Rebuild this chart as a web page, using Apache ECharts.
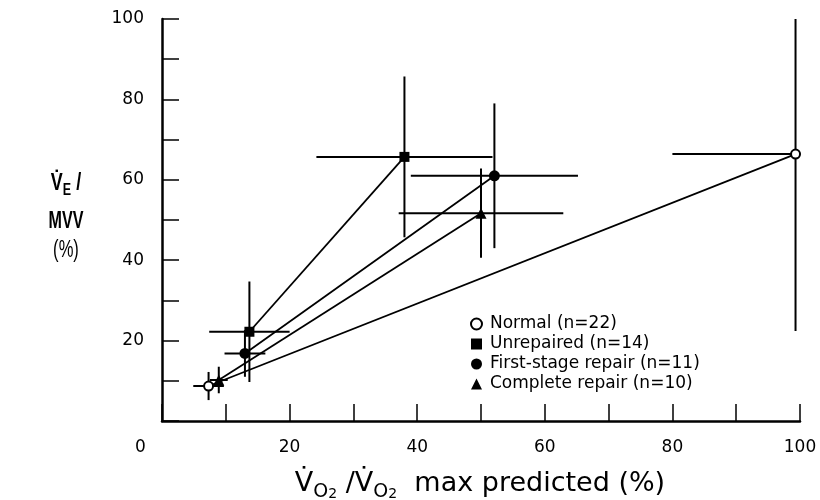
<!DOCTYPE html>
<html>
<head>
<meta charset="utf-8" />
<script src="https://cdn.jsdelivr.net/npm/echarts@6/dist/echarts.min.js"></script>
</head>
<body style="margin:0">
<div id="main" style="width:820px;height:500px"></div>
<script>
// group names as printed in the key
const groupNames = ['Normal (n=22)', 'Unrepaired (n=14)', 'First-stage repair (n=11)', 'Complete repair (n=10)'];
const groupSymbols = ['circle', 'rect', 'circle', 'triangle'];

// each point: [VO2 % of max predicted, VE/MVV %, x error, y error]
// first point = low work load, second = maximal exercise
const normal = [[7.3, 8.7, 2.4, 3.5], [99.3, 66.4, 19.3, 44]];
const unrepaired = [[13.7, 22.2, 6.3, 12.5], [38.0, 65.7, 13.8, 20]];
const firstStage = [[13.0, 16.8, 3.2, 5.8], [52.1, 61.0, 13.1, 18]];
const completeRepair = [[8.9, 10.2, 1.4, 3.3], [50.0, 51.7, 12.9, 11.1]];

const xTickLabels = [0, 20, 40, 60, 80, 100];
const yTickLabels = [20, 40, 60, 80, 100];

const FONT = 'DejaVu Sans';
const TITLE_FONT = 'Liberation Sans';
const groups = [normal, unrepaired, firstStage, completeRepair];

var chart = echarts.init(document.getElementById('main'), null, { renderer: 'canvas' });

function errorBars(points) {
    return {
        type: 'custom',
        data: points,
        dimensions: ['x', 'y', 'dx', 'dy'],
        encode: { x: 0, y: 1 },
        clip: true,
        silent: true,
        z: 1,
        renderItem: function (params, api) {
            var x = api.value(0), y = api.value(1), dx = api.value(2), dy = api.value(3);
            var l = api.coord([x - dx, y]), r = api.coord([x + dx, y]);
            var t = api.coord([x, y + dy]), b = api.coord([x, y - dy]);
            var style = { stroke: '#000', lineWidth: 2 };
            return {
                type: 'group',
                children: [
                    { type: 'line', shape: { x1: l[0], y1: l[1], x2: r[0], y2: r[1] }, style: style },
                    { type: 'line', shape: { x1: t[0], y1: t[1], x2: b[0], y2: b[1] }, style: style }
                ]
            };
        }
    };
}

var series = [];
groups.forEach(function (g) {
    series.push(errorBars(g));
});
groups.forEach(function (g, i) {
    var open = i === 0;
    series.push({
        type: 'line',
        name: groupNames[i],
        data: g.map(function (p) { return [p[0], p[1]]; }),
        symbol: groupSymbols[i],
        symbolSize: open ? 9 : (groupSymbols[i] === 'rect' ? 10 : 11),
        showAllSymbol: true,
        z: 3,
        lineStyle: { color: '#000', width: 1.8 },
        itemStyle: open
            ? { color: '#fff', borderColor: '#000', borderWidth: 2 }
            : { color: '#000', borderColor: '#000', borderWidth: 0 }
    });
});

// y axis title, condensed like the original lettering
var yTitle = { fontSize: 23, fontWeight: 'bold', fontFamily: TITLE_FONT, color: '#000' };

chart.setOption({
    animation: false,
    grid: { left: 162, right: 20, top: 19, bottom: 79, outerBoundsMode: 'none' },
    xAxis: {
        type: 'value', min: 0, max: 100, interval: 10,
        axisLine: { show: true, lineStyle: { color: '#000', width: 2.5 } },
        axisTick: { show: true, inside: true, length: 17, lineStyle: { color: '#000', width: 1.5 } },
        splitLine: { show: false },
        axisLabel: {
            margin: 18, color: '#000', fontSize: 17, fontFamily: FONT,
            formatter: function (v) {
                if (v === 0) return '{z|0}';
                return xTickLabels.indexOf(v) >= 0 ? String(v) : '';
            },
            rich: { z: { padding: [0, 43, 0, 0], fontSize: 17, fontFamily: FONT, color: '#000' } }
        }
    },
    yAxis: {
        type: 'value', min: 0, max: 100, interval: 10,
        axisLine: { show: true, lineStyle: { color: '#000', width: 2.5 } },
        axisTick: { show: true, inside: true, length: 17, lineStyle: { color: '#000', width: 1.5 } },
        splitLine: { show: false },
        axisLabel: {
            margin: 18, color: '#000', fontSize: 17, fontFamily: FONT,
            formatter: function (v) { return yTickLabels.indexOf(v) >= 0 ? String(v) : ''; }
        }
    },
    legend: {
        orient: 'vertical', left: 470, top: 314, padding: 0, itemGap: 0,
        itemWidth: 11, itemHeight: 11,
        textStyle: { fontSize: 17, fontFamily: FONT, color: '#000', lineHeight: 20, padding: [0, 0, 0, 3] },
        data: groupNames.map(function (n, i) { return { name: n, icon: groupSymbols[i] }; })
    },
    graphic: [
        {
            type: 'text', x: 66, y: 184, scaleX: 0.78,
            style: {
                text: '{v|V\u0307}{s|E}{v| /}', align: 'center', verticalAlign: 'middle',
                rich: {
                    v: Object.assign({ lineHeight: 30 }, yTitle),
                    s: Object.assign({}, yTitle, { fontSize: 16, lineHeight: 19, verticalAlign: 'bottom' })
                }
            }
        },
        { type: 'text', x: 66, y: 222, scaleX: 0.7, style: Object.assign({ text: 'MVV', align: 'center', verticalAlign: 'middle' }, yTitle, { fill: '#000' }) },
        { type: 'text', x: 66, y: 251, scaleX: 0.72, style: Object.assign({ text: '(%)', align: 'center', verticalAlign: 'middle' }, yTitle, { fontWeight: 'normal', fill: '#000' }) },
        {
            type: 'text', x: 480, y: 484,
            style: {
                text: '{v|V\u0307}{o|O}{t|2}{v| /V\u0307}{o|O}{t|2}{v|  max predicted (%)}',
                align: 'center', verticalAlign: 'middle',
                rich: {
                    v: { fontSize: 27, fontFamily: FONT, lineHeight: 35, color: '#000' },
                    o: { fontSize: 19, fontFamily: FONT, lineHeight: 22, verticalAlign: 'bottom', color: '#000' },
                    t: { fontSize: 14, fontFamily: FONT, lineHeight: 15, verticalAlign: 'bottom', color: '#000' }
                }
            }
        }
    ],
    series: series
});
</script>
</body>
</html>
